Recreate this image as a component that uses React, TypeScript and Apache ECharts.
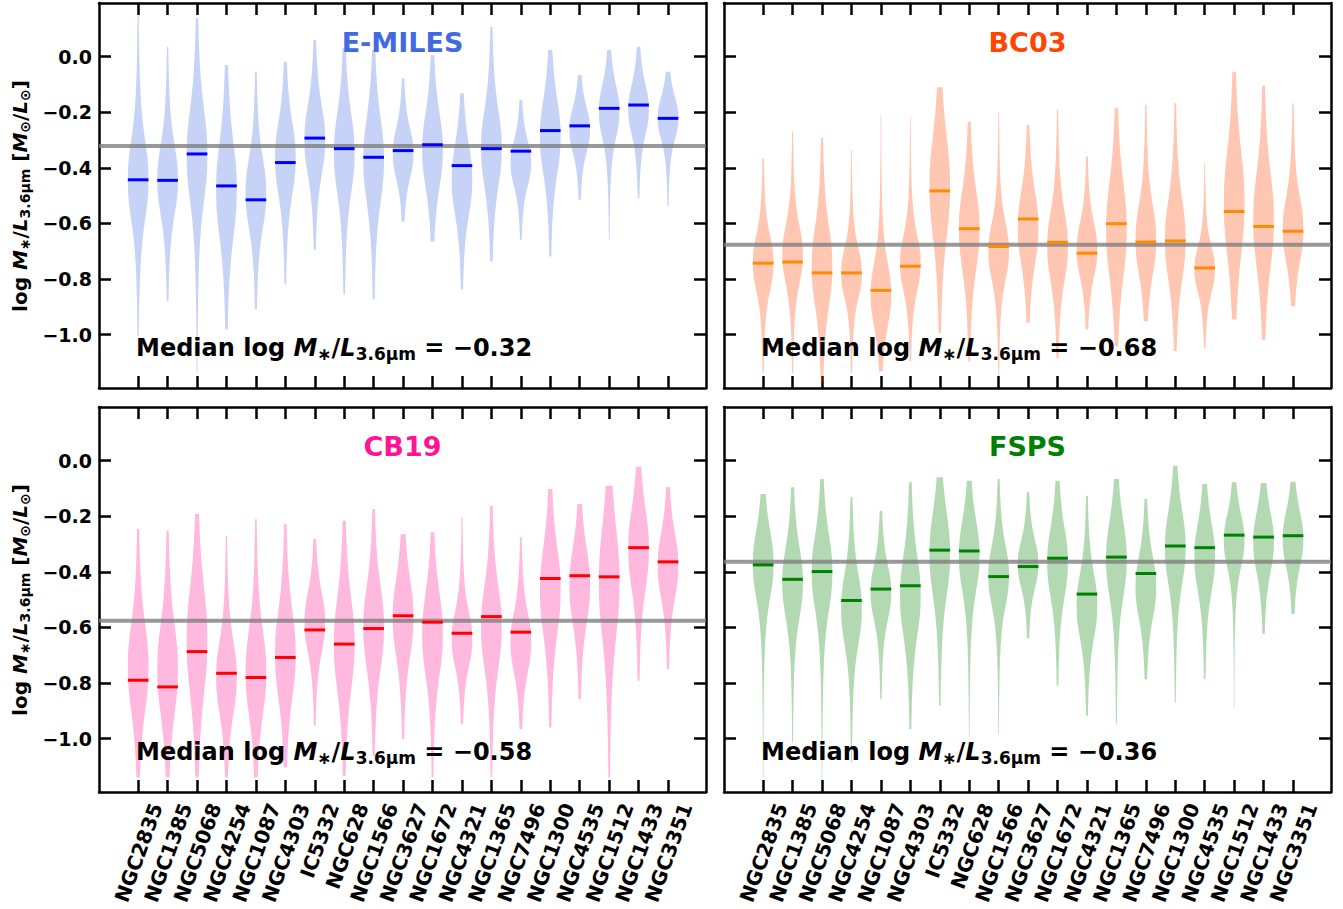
import React, { useEffect, useRef } from "react";
import * as echarts from "echarts";

// ---------- data ----------
const galaxies = [
  "NGC2835", "NGC1385", "NGC5068", "NGC4254", "NGC1087", "NGC4303", "IC5332",
  "NGC628", "NGC1566", "NGC3627", "NGC1672", "NGC4321", "NGC1365", "NGC7496",
  "NGC1300", "NGC4535", "NGC1512", "NGC1433", "NGC3351",
];
const yTickValues = [-1.0, -0.8, -0.6, -0.4, -0.2, 0.0];
const modelNames = ["E-MILES", "BC03", "CB19", "FSPS"];
const overallMedians = [-0.321, -0.677, -0.576, -0.364];

// E-MILES
const emilesMin = [-1.006, -0.88, -1.138, -0.982, -0.91, -0.82, -0.695, -0.856, -0.874, -0.593, -0.665, -0.838, -0.737, -0.659, -0.719, -0.515, -0.659, -0.509, -0.539];
const emilesMax = [0.15, 0.036, 0.138, -0.03, -0.054, -0.018, 0.06, 0.03, 0.024, -0.078, 0.006, -0.132, 0.108, -0.156, 0.024, -0.066, 0.024, 0.036, -0.054];
const emilesMedian = [-0.443, -0.445, -0.35, -0.465, -0.515, -0.381, -0.293, -0.331, -0.362, -0.338, -0.317, -0.392, -0.331, -0.34, -0.266, -0.249, -0.186, -0.174, -0.222];
const emilesBodyTop = [-0.251, -0.275, -0.132, -0.251, -0.323, -0.192, -0.132, -0.156, -0.168, -0.228, -0.156, -0.275, -0.144, -0.275, -0.108, -0.156, -0.072, -0.072, -0.12];
const emilesBodyBottom = [-0.635, -0.611, -0.575, -0.707, -0.659, -0.539, -0.467, -0.539, -0.575, -0.467, -0.515, -0.611, -0.515, -0.491, -0.467, -0.371, -0.323, -0.311, -0.323];

// BC03
const bc03Min = [-1.138, -1.138, -1.174, -1.138, -1.132, -1.096, -0.994, -1.096, -1.15, -0.958, -1.084, -0.982, -1.042, -0.952, -1.06, -1.048, -0.946, -1.018, -0.898];
const bc03Max = [-0.365, -0.269, -0.293, -0.335, -0.21, -0.216, -0.11, -0.234, -0.198, -0.246, -0.192, -0.359, -0.186, -0.174, -0.168, -0.383, -0.054, -0.105, -0.168];
const bc03Median = [-0.743, -0.739, -0.778, -0.778, -0.841, -0.754, -0.483, -0.619, -0.683, -0.584, -0.668, -0.707, -0.601, -0.667, -0.663, -0.76, -0.557, -0.611, -0.628];
const bc03BodyTop = [-0.611, -0.575, -0.563, -0.659, -0.707, -0.611, -0.228, -0.431, -0.563, -0.443, -0.515, -0.563, -0.395, -0.491, -0.467, -0.659, -0.275, -0.359, -0.467];
const bc03BodyBottom = [-0.874, -0.85, -0.946, -0.898, -1.006, -0.874, -0.707, -0.814, -0.838, -0.79, -0.85, -0.826, -0.85, -0.826, -0.85, -0.874, -0.778, -0.814, -0.778];

// CB19
const cb19Min = [-1.14, -1.14, -1.14, -1.14, -1.14, -1.104, -0.954, -1.134, -1.062, -1.002, -1.14, -0.948, -1.14, -0.966, -0.96, -0.858, -1.14, -0.792, -0.75];
const cb19Max = [-0.246, -0.252, -0.192, -0.27, -0.21, -0.228, -0.282, -0.216, -0.174, -0.264, -0.258, -0.204, -0.162, -0.276, -0.102, -0.156, -0.09, -0.022, -0.096];
const cb19Median = [-0.79, -0.814, -0.687, -0.765, -0.78, -0.708, -0.609, -0.66, -0.604, -0.558, -0.581, -0.621, -0.561, -0.617, -0.424, -0.414, -0.418, -0.313, -0.364];
const cb19BodyTop = [-0.534, -0.534, -0.39, -0.606, -0.558, -0.486, -0.438, -0.438, -0.402, -0.378, -0.426, -0.51, -0.402, -0.51, -0.258, -0.27, -0.174, -0.126, -0.222];
const cb19BodyBottom = [-0.954, -0.966, -0.906, -0.954, -0.966, -0.906, -0.726, -0.882, -0.798, -0.75, -0.822, -0.774, -0.798, -0.798, -0.678, -0.63, -0.702, -0.51, -0.534];

// FSPS
const fspsMin = [-1.14, -1.014, -1.146, -1.086, -0.858, -0.966, -0.882, -0.99, -0.984, -0.64, -0.81, -0.918, -0.948, -0.786, -0.87, -0.786, -0.888, -0.624, -0.552];
const fspsMax = [-0.12, -0.096, -0.066, -0.132, -0.18, -0.078, -0.06, -0.072, -0.066, -0.114, -0.072, -0.126, -0.066, -0.138, -0.018, -0.084, -0.078, -0.08, -0.076];
const fspsMedian = [-0.375, -0.427, -0.399, -0.503, -0.462, -0.45, -0.322, -0.325, -0.417, -0.381, -0.351, -0.48, -0.347, -0.406, -0.307, -0.313, -0.268, -0.275, -0.27];
const fspsBodyTop = [-0.21, -0.27, -0.222, -0.366, -0.342, -0.294, -0.138, -0.174, -0.27, -0.258, -0.198, -0.366, -0.174, -0.306, -0.138, -0.186, -0.162, -0.15, -0.15];
const fspsBodyBottom = [-0.534, -0.606, -0.582, -0.702, -0.606, -0.678, -0.534, -0.51, -0.558, -0.486, -0.534, -0.678, -0.534, -0.606, -0.486, -0.51, -0.414, -0.438, -0.414];

// ---------- styling ----------
const FONT = '"DejaVu Sans", "Noto Sans", sans-serif';
const titleColors = ["#4169E1", "#FF4500", "#FF1493", "#008000"];
const fillColors = ["rgba(65,105,225,0.3)", "rgba(255,69,0,0.3)", "rgba(255,20,147,0.3)", "rgba(0,128,0,0.3)"];
const medianColors = ["#0000FF", "#FF8C00", "#FF0000", "#008000"];

const X_MIN = -1.33;
const X_MAX = 19.29;
const Y_MIN = -1.192;
const Y_MAX = 0.193;
const HALF = 0.35;
const LABEL_OFF = 0.62;

const panels = [
  { left: 99, top: 3 },
  { left: 724, top: 3 },
  { left: 99, top: 407 },
  { left: 724, top: 407 },
];
const PW = 607;
const PH = 385;

const panelData = [
  [emilesMin, emilesMax, emilesMedian, emilesBodyTop, emilesBodyBottom],
  [bc03Min, bc03Max, bc03Median, bc03BodyTop, bc03BodyBottom],
  [cb19Min, cb19Max, cb19Median, cb19BodyTop, cb19BodyBottom],
  [fspsMin, fspsMax, fspsMedian, fspsBodyTop, fspsBodyBottom],
];

const fmtMinus = (v: number, d: number) => (v < -1e-9 ? "\u2212" : "") + Math.abs(v).toFixed(d);

function makeViolinItem(fill: string) {
  return (params: any, api: any) => {
    const i = api.value(0);
    const lo = api.value(1);
    const hi = api.value(2);
    const bt = api.value(4);
    const bb = api.value(5);
    const c = (bt + bb) / 2;
    const h = (bt - bb) / 2;
    const N = 140;
    const L: number[][] = [];
    const R: number[][] = [];
    for (let k = 0; k <= N; k++) {
      const y = lo + ((hi - lo) * k) / N;
      const d = Math.abs(y - c) / h;
      const w = Math.max(1 / (1 + Math.pow(d, 2.5)), 0.03);
      L.push(api.coord([i - HALF * w, y]));
      R.push(api.coord([i + HALF * w, y]));
    }
    const pts = L.concat(R.reverse());
    return { type: "polygon", shape: { points: pts }, style: { fill, stroke: null } };
  };
}

function makeMedianItem(color: string) {
  return (params: any, api: any) => {
    const i = api.value(0);
    const med = api.value(3);
    const a = api.coord([i - HALF, med]);
    const b = api.coord([i + HALF, med]);
    return {
      type: "line",
      shape: { x1: a[0], y1: a[1], x2: b[0], y2: b[1] },
      style: { stroke: color, lineWidth: 3 },
    };
  };
}

function buildOption() {
  const grid: any[] = [];
  const xAxis: any[] = [];
  const yAxis: any[] = [];
  const series: any[] = [];
  const graphic: any[] = [];
  const idx = galaxies.map((_, i) => i);
  const lineStyle = { color: "#000", width: 2.5 };
  const tickStyle = { color: "#000", width: 2.5 };

  panels.forEach((p, g) => {
    const leftCol = g % 2 === 0;
    const bottomRow = g >= 2;
    grid.push({ left: p.left, top: p.top, width: PW, height: PH, containLabel: false });
    const baseX = {
      type: "value",
      gridIndex: g,
      min: X_MIN,
      max: X_MAX,
      splitLine: { show: false },
      axisLine: { show: true, onZero: false, lineStyle },
      axisTick: { show: true, inside: true, length: 12, lineStyle: tickStyle, customValues: idx },
    };
    xAxis.push({
      ...baseX,
      position: "bottom",
      axisLabel: bottomRow
        ? {
            show: true,
            customValues: idx.map((i) => i + LABEL_OFF),
            formatter: (v: number) => galaxies[Math.round(v - LABEL_OFF)],
            rotate: 70,
            margin: 12,
            fontSize: 20,
            fontWeight: "bold",
            fontFamily: FONT,
            color: "#000",
          }
        : { show: false },
    });
    xAxis.push({ ...baseX, position: "top", axisLabel: { show: false } });
    const baseY = {
      type: "value",
      gridIndex: g,
      min: Y_MIN,
      max: Y_MAX,
      splitLine: { show: false },
      axisLine: { show: true, onZero: false, lineStyle },
      axisTick: { show: true, inside: true, length: 12, lineStyle: tickStyle, customValues: yTickValues },
    };
    yAxis.push({
      ...baseY,
      position: "left",
      axisLabel: leftCol
        ? {
            show: true,
            customValues: yTickValues,
            formatter: (v: number) => fmtMinus(v, 1),
            margin: 7,
            fontSize: 19,
            fontWeight: "bold",
            fontFamily: FONT,
            color: "#000",
          }
        : { show: false },
    });
    yAxis.push({ ...baseY, position: "right", axisLabel: { show: false } });

    const [mn, mx, md, bt, bb] = panelData[g];
    const rows = idx.map((i) => [i, mn[i], mx[i], md[i], bt[i], bb[i]]);
    series.push({
      type: "custom",
      xAxisIndex: 2 * g,
      yAxisIndex: 2 * g,
      renderItem: makeViolinItem(fillColors[g]),
      data: rows,
      encode: { x: 0, y: [1, 2] },
      z: 2,
      silent: true,
    });
    series.push({
      type: "line",
      xAxisIndex: 2 * g,
      yAxisIndex: 2 * g,
      data: [
        [X_MIN, overallMedians[g]],
        [X_MAX, overallMedians[g]],
      ],
      symbol: "none",
      lineStyle: { color: "#808080", width: 4, opacity: 0.8 },
      z: 3,
      silent: true,
    });
    series.push({
      type: "custom",
      xAxisIndex: 2 * g,
      yAxisIndex: 2 * g,
      renderItem: makeMedianItem(medianColors[g]),
      data: rows,
      encode: { x: 0, y: 3 },
      z: 4,
      silent: true,
    });

    // panel title
    graphic.push({
      type: "text",
      x: p.left + PW / 2,
      y: p.top + 39,
      style: {
        text: modelNames[g],
        fill: titleColors[g],
        font: `bold 27px ${FONT}`,
        align: "center",
        verticalAlign: "middle",
        textAlign: "center",
        textVerticalAlign: "middle",
      },
      z: 10,
    });

    // median annotation
    graphic.push({
      type: "text",
      x: p.left + 37,
      y: p.top + 345,
      style: {
        text: `{b|Median log }{i|M}{s|\u2217}{b|/}{i|L}{s|3.6\u03bcm}{b| = ${fmtMinus(overallMedians[g], 2)}}`,
        align: "left",
        verticalAlign: "middle",
        textAlign: "left",
        textVerticalAlign: "middle",
        rich: {
          b: { fontSize: 24, fontWeight: "bold", fontFamily: FONT, fill: "#000", lineHeight: 28 },
          i: { fontSize: 24, fontWeight: "bold", fontStyle: "italic", fontFamily: FONT, fill: "#000", lineHeight: 28 },
          s: { fontSize: 17, fontWeight: "bold", fontFamily: FONT, fill: "#000", lineHeight: 17, verticalAlign: "bottom" },
        },
      },
      z: 10,
    });

    if (leftCol) {
      graphic.push({
        type: "text",
        x: 20,
        y: p.top + 193,
        rotation: Math.PI / 2,
        style: {
          text: "{b|log }{i|M}{s|\u2217}{b|/}{i|L}{s|3.6\u03bcm}{b| [}{i|M}{s|\u2299}{b|/}{i|L}{s|\u2299}{b|]}",
          align: "center",
          verticalAlign: "middle",
          textAlign: "center",
          textVerticalAlign: "middle",
          rich: {
            b: { fontSize: 20, fontWeight: "bold", fontFamily: FONT, fill: "#000", lineHeight: 23 },
            i: { fontSize: 20, fontWeight: "bold", fontStyle: "italic", fontFamily: FONT, fill: "#000", lineHeight: 23 },
            s: { fontSize: 14, fontWeight: "bold", fontFamily: FONT, fill: "#000", lineHeight: 14, verticalAlign: "bottom" },
          },
        },
        z: 10,
      });
    }
  });

  return {
    animation: false,
    backgroundColor: "#fff",
    grid,
    xAxis,
    yAxis,
    series,
    graphic,
  };
}

export default function App() {
  const ref = useRef<HTMLDivElement>(null);
  useEffect(() => {
    if (!ref.current) return;
    const chart = echarts.init(ref.current, undefined, { renderer: "svg" });
    chart.setOption(buildOption() as any);
    return () => chart.dispose();
  }, []);
  return (
    <div
      ref={ref}
      style={{ position: "fixed", left: 0, top: 0, width: 1343, height: 909, background: "#fff" }}
    />
  );
}
